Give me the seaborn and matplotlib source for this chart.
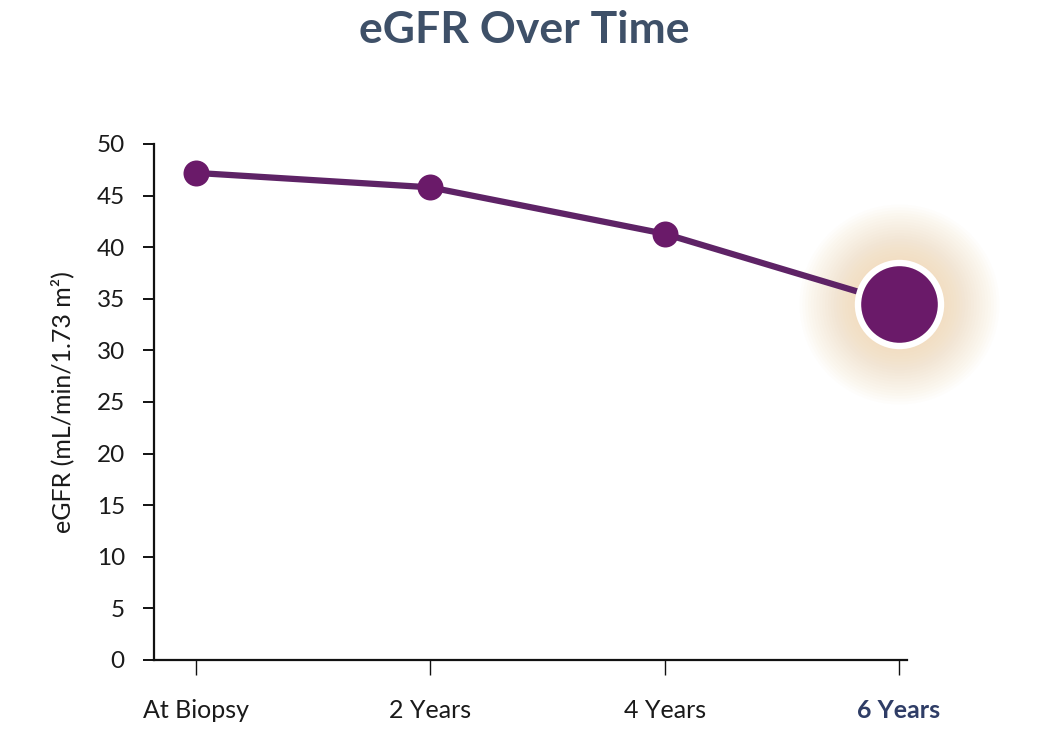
import numpy as np
import pandas as pd
import matplotlib
matplotlib.use("Agg")
import matplotlib.pyplot as plt
import seaborn as sns

# ---- data ----
categories = ["At Biopsy", "2 Years", "4 Years", "6 Years"]
egfr = [47.2, 45.8, 41.3, 34.5]
y_ticks = [0, 5, 10, 15, 20, 25, 30, 35, 40, 45, 50]

df = pd.DataFrame({"pos": np.arange(len(categories)), "time": categories, "egfr": egfr})

sns.set_theme(style="white")
plt.rcParams["font.family"] = ["Lato", "DejaVu Sans"]

fig = plt.figure(figsize=(10.48, 7.46), dpi=100)
ax = fig.add_axes([154 / 1048, 1 - 660 / 746, (907 - 154) / 1048, (660 - 144) / 746])

line_color = "#5e2366"
marker_color = "#6a1a69"

# glow behind last point
last = df.iloc[[-1]]
for d in np.linspace(200, 92, 20):
    s = (d * 0.72) ** 2
    ax.scatter(last["pos"], last["egfr"], s=s, color="#f2c184", alpha=0.028,
               linewidths=0, zorder=1, clip_on=False)

sns.lineplot(data=df, x="pos", y="egfr", ax=ax, color=line_color, lw=4.5,
             zorder=2, legend=False, clip_on=False)

sns.scatterplot(data=df.iloc[:-1], x="pos", y="egfr", ax=ax, s=(26 * 0.72) ** 2,
                color=marker_color, edgecolor=marker_color, linewidth=0, zorder=3,
                legend=False, clip_on=False)
sns.scatterplot(data=last, x="pos", y="egfr", ax=ax, s=(83 * 0.72) ** 2,
                color=marker_color, edgecolor="white", linewidth=4.6, zorder=4,
                legend=False, clip_on=False)

ax.set_ylim(0, 50)
ax.set_xlim(-0.179, 3.034)
ax.set_yticks(y_ticks)
ax.set_yticklabels([str(t) for t in y_ticks], fontsize=17.5, color="#1a1a1a")
ax.set_xticks(df["pos"])
ax.set_xticklabels(categories, fontsize=18, color="#1a1a1a")
lbls = ax.get_xticklabels()
lbls[-1].set_fontweight("bold")
lbls[-1].set_color("#2f3d66")

for side in ["top", "right"]:
    ax.spines[side].set_visible(False)
for side in ["left", "bottom"]:
    ax.spines[side].set_color("#111111")
    ax.spines[side].set_linewidth(1.6)

ax.tick_params(axis="y", direction="out", length=8, width=1.4, color="#111111", pad=13,
               left=True)
ax.tick_params(axis="x", direction="out", length=11, width=1.0, color="#111111", pad=17,
               bottom=True)

ax.set_xlabel("")
ax.set_ylabel("eGFR (mL/min/1.73 m²)", fontsize=18, color="#1a1a1a", labelpad=16)

fig.text(0.5, 1 - 30 / 746, "eGFR Over Time", ha="center", va="center",
         fontsize=32, fontweight="bold", color="#3e5068")

fig.savefig("out.png", dpi=100, facecolor="white")
